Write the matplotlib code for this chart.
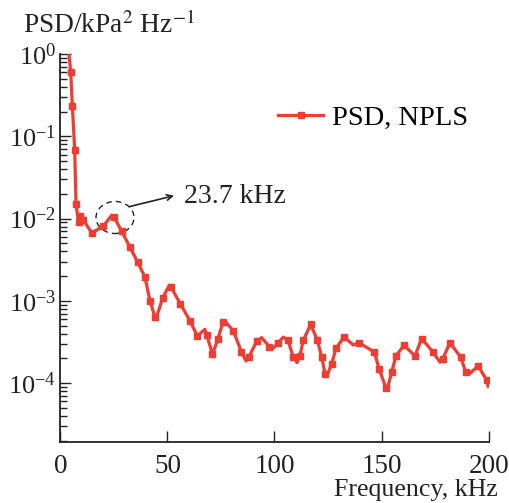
import numpy as np
import matplotlib
matplotlib.use("Agg")
import matplotlib.pyplot as plt
from matplotlib.patches import Ellipse
from matplotlib.ticker import LogLocator, NullFormatter


# points (kHz, kPa^2/Hz)
freq = [4.0, 4.86, 5.60, 6.72, 7.33, 8.50, 9.20, 10.74, 14.66, 20.07,
        24.0, 25.2, 28.66, 32.54, 36.13, 39.54, 41.88, 44.21, 44.6, 47.81,
        50.9, 51.68, 56.0, 60.55, 63.96, 67.5, 68.35, 71.06, 73.62, 75.96,
        76.9, 80.77, 84.6, 86.7, 88.0, 91.69, 94.0, 97.57, 98.8, 101.87,
        104.1, 106.3, 108.78, 110.5, 111.9, 113.4, 116.9, 120.0, 122.0, 123.6,
        124.4, 126.7, 128.7, 132.5, 136.8, 139.4, 146.6, 148.9, 152.1, 152.5,
        154.7, 156.7, 160.5, 165.6, 168.7, 173.9, 177.3, 178.5, 181.9, 186.9,
        189.4, 190.9, 195.1, 199.1, 199.8]
psd = [1.0, 0.61, 0.234, 0.0686, 0.0152, 0.00897, 0.01087, 0.00967, 0.00671, 0.00807,
       0.0110, 0.01037, 0.00701, 0.00449, 0.00295, 0.00194, 0.000995, 0.000637, 0.000597, 0.00109,
       0.00155, 0.00147, 0.000925, 0.000573, 0.000374, 0.000451, 0.000387, 0.000225, 0.000348, 0.000553,
       0.000566, 0.000433, 0.000239, 0.000186, 0.000207, 0.000323, 0.000358, 0.000279, 0.000257, 0.00031,
       0.000364, 0.000332, 0.000209, 0.000178, 0.000214, 0.000332, 0.000518, 0.000335, 0.000211, 0.000131,
       0.000121, 0.000172, 0.000264, 0.000365, 0.000291, 0.000311, 0.000239, 0.000148, 0.0000863, 0.000082,
       0.000135, 0.000214, 0.000290, 0.000214, 0.000348, 0.000242, 0.000180, 0.000195, 0.000311, 0.000208,
       0.000135, 0.000129, 0.000162, 0.000109, 0.000091]
# which of the points above carry a square marker
marker_idx = [1, 2, 3, 4, 5, 6, 7, 8, 9, 11, 12, 13, 14, 15, 16, 17, 19, 21, 22, 23,
              24, 26, 27, 28, 29, 31, 32, 34, 35, 37, 39, 41, 42, 44, 45, 46, 47, 48, 49,
              51, 52, 53, 55, 56, 57, 58, 60, 61, 62, 63, 64, 65, 67, 68, 69, 70, 72, 73]

peak_label = "23.7 kHz"
series_label = "PSD, NPLS"
red = "#f03c32"
ink = "#222222"

plt.rcParams["font.family"] = ["Liberation Serif", "DejaVu Serif"]
plt.rcParams["mathtext.fontset"] = "stix"

fig = plt.figure(figsize=(5.09, 5.03), dpi=100)
ax = fig.add_axes([0.1185, 0.1213, 0.8415, 0.7713])

ax.plot(freq, psd, color=red, lw=2.3, marker="s", ms=5,
        markevery=marker_idx, label=series_label, solid_joinstyle="round")

ax.set_yscale("log")
ax.set_xlim(0, 200)
ax.set_ylim(1.93e-5, 1)
ax.set_xticks([0, 50, 100, 150, 200])
ax.yaxis.set_major_locator(LogLocator(base=10, numticks=10))
ax.yaxis.set_minor_locator(LogLocator(base=10, subs=np.arange(2, 10), numticks=20))
ax.yaxis.set_minor_formatter(NullFormatter())

for s in ["top", "right"]:
    ax.spines[s].set_visible(False)
for s in ["left", "bottom"]:
    ax.spines[s].set_linewidth(1.3)
    ax.spines[s].set_color(ink)

ax.tick_params(axis="y", which="major", direction="in", length=8, width=1,
               labelsize=19, pad=3, colors=ink)
ax.tick_params(axis="y", which="minor", direction="in", length=5, width=1, colors=ink)
ax.tick_params(axis="x", which="major", direction="in", length=8, width=1,
               labelsize=19.5, pad=9, colors=ink)

fig.text(0.045, 0.95, r"PSD/kPa$^2$ Hz$^{-1}$", fontsize=19.7, va="center", color=ink)
fig.text(0.977, 0.026, "Frequency, kHz", fontsize=18.6, ha="right", va="center", color=ink)

ax.legend(loc="center left", bbox_to_anchor=(0.508, 0.835), frameon=False,
          fontsize=20.5, handlelength=1.6, handletextpad=0.3, borderpad=0, borderaxespad=0)

ax.add_patch(Ellipse((0.1277, 0.5786), 0.0887, 0.0825, transform=ax.transAxes,
                     fill=False, ls=(0, (4, 3)), lw=1, ec=ink))
ax.annotate("", xy=(0.2717, 0.6366), xytext=(0.155, 0.6049), xycoords="axes fraction",
            arrowprops=dict(arrowstyle="->", color=ink, lw=1.2))
ax.text(0.2885, 0.634, peak_label, transform=ax.transAxes, fontsize=20,
        va="center", color=ink)

fig.savefig("out.png", dpi=100)
